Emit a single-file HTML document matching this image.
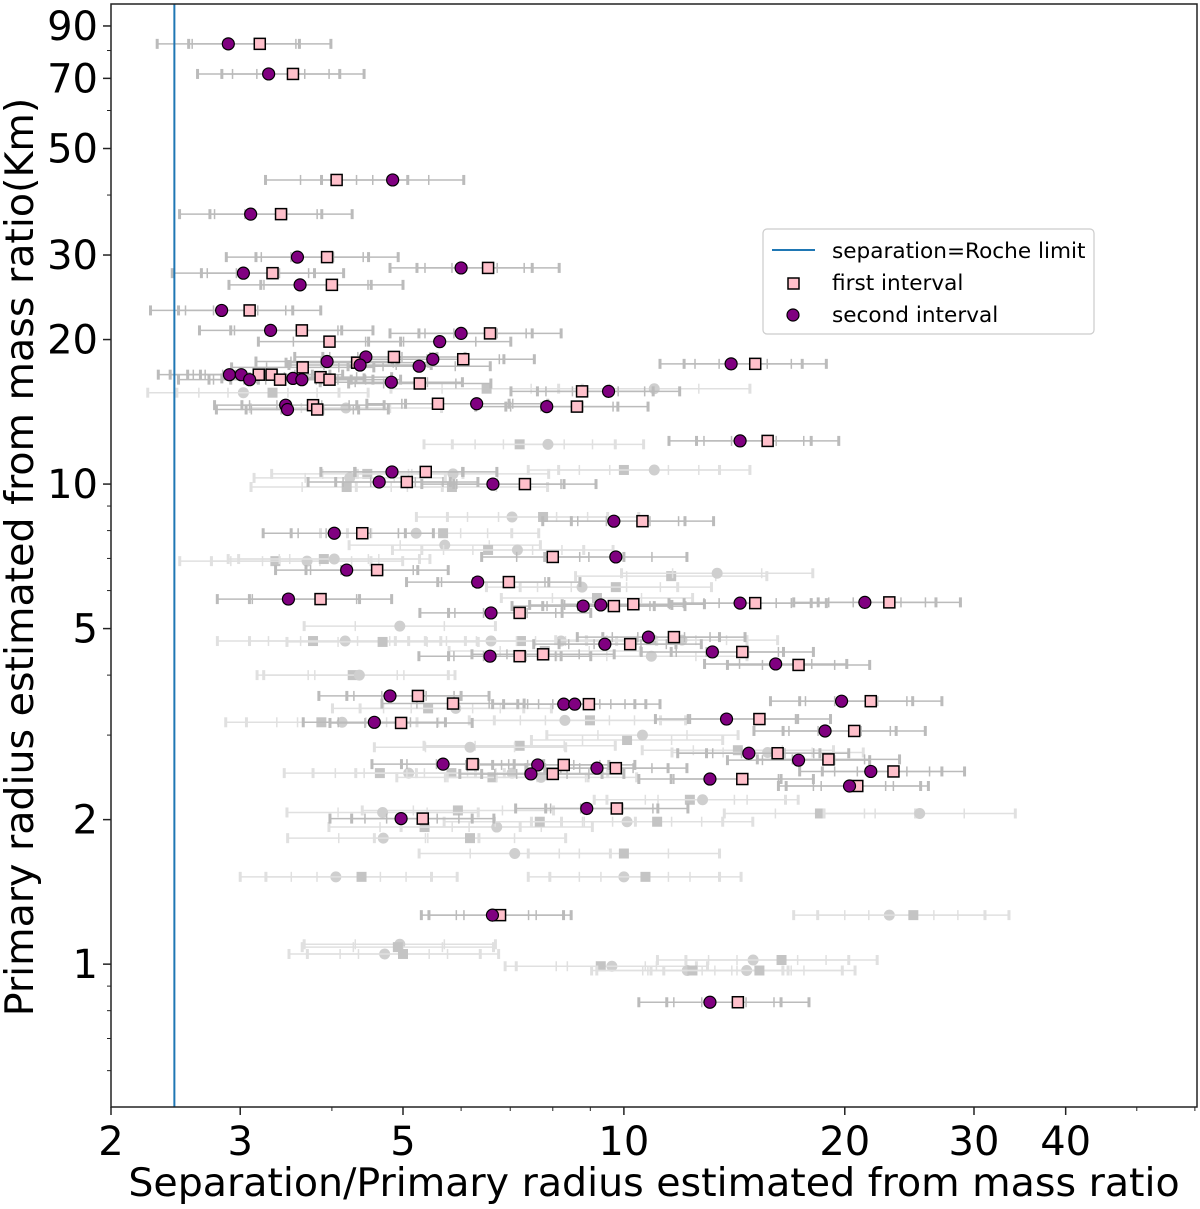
<!DOCTYPE html>
<html><head><meta charset="utf-8">
<style>
html,body{margin:0;padding:0;background:#fff;}
svg{display:block;font-family:"DejaVu Sans","Liberation Sans",sans-serif;}
</style></head>
<body>
<svg id="chart" width="1200" height="1209" viewBox="0 0 1200 1209" xmlns="http://www.w3.org/2000/svg">
<rect x="0" y="0" width="1200" height="1209" fill="#fff"/>
<g id="gray"></g>
<g id="bars"></g>
<g id="marks"></g>
<g id="axes"></g>
</svg>
<script>
// ---- data ----
const xTickValues = [2,3,5,10,20,30,40];
const xTickLabels = ["2","3","5","10","20","30","40"];
const xMinorTicks = [4,6,7,8,9,50,60];
const yTickValues = [1,2,5,10,20,30,50,70,90];
const yTickLabels = ["1","2","5","10","20","30","50","70","90"];
const yMinorTicks = [0.6,0.7,0.8,0.9,3,4,6,7,8,9,40,60,80];
const rocheLimit = 2.44;

const firstX = [3.19,3.54,4.06,3.41,3.94,6.53,3.32,4.0,3.09,3.64,6.57,3.97,4.86,4.33,6.04,3.65,3.18,3.31,3.40,3.86,3.97,5.27,15.1,8.77,5.58,8.63,3.77,3.82,15.7,5.37,5.06,7.33,10.6,4.40,8.0,4.61,6.97,3.86,7.21,9.69,10.3,15.1,23.0,10.2,11.7,14.5,7.21,7.76,17.3,5.24,8.96,5.85,21.7,15.3,4.97,20.6,16.2,19.0,6.22,8.28,9.75,8.0,14.5,20.8,23.3,9.78,5.32,6.78,14.3];
const firstY = [82.6,71.5,43,36.5,29.7,28.2,27.5,26.0,23.0,20.9,20.6,19.8,18.4,17.9,18.2,17.5,16.9,16.9,16.5,16.7,16.5,16.2,17.8,15.6,14.7,14.5,14.6,14.3,12.3,10.6,10.1,10.0,8.37,7.9,7.05,6.62,6.25,5.76,5.39,5.57,5.62,5.65,5.67,4.64,4.80,4.47,4.38,4.42,4.20,3.62,3.48,3.49,3.53,3.24,3.18,3.06,2.75,2.67,2.61,2.60,2.56,2.49,2.43,2.35,2.52,2.11,2.01,1.265,0.833];
const secondX = [2.89,3.28,4.84,3.10,3.59,6.0,3.03,3.62,2.83,3.30,6.0,5.61,5.49,4.45,5.26,3.94,4.37,2.90,3.01,3.09,3.54,3.64,4.82,14.0,9.53,6.30,7.85,3.46,3.48,14.4,4.83,4.64,6.63,9.69,4.03,9.75,4.19,6.32,3.49,6.59,8.80,9.3,14.4,21.3,9.42,10.8,13.2,6.57,16.1,4.80,8.28,8.57,19.8,13.8,4.57,18.8,14.8,17.3,5.67,7.63,9.19,7.47,13.1,20.3,21.7,8.90,4.97,6.62,13.1];
const secondY = [82.6,71.5,43,36.5,29.7,28.2,27.5,26.0,23.0,20.9,20.6,19.8,18.2,18.4,17.6,18.0,17.7,16.9,16.9,16.5,16.6,16.5,16.3,17.8,15.6,14.7,14.5,14.6,14.3,12.3,10.6,10.1,10.0,8.37,7.9,7.05,6.62,6.25,5.76,5.39,5.57,5.6,5.65,5.67,4.64,4.80,4.47,4.38,4.22,3.62,3.48,3.48,3.53,3.24,3.19,3.06,2.75,2.66,2.61,2.60,2.56,2.49,2.43,2.35,2.52,2.11,2.01,1.265,0.833];
const grayX = [11.0,6.50,3.03,3.32,4.18,7.21,7.88,10.0,11.0,4.47,4.23,4.19,5.85,5.83,7.04,7.76,5.21,5.67,5.70,6.53,7.16,3.35,3.70,3.90,4.03,9.75,8.77,11.6,13.4,9.19,4.95,3.77,4.17,4.69,6.59,7.24,8.21,10.9,12.0,7.8,10.9,4.27,4.36,5.41,5.9,3.87,4.13,8.99,8.31,10.1,10.6,7.21,6.17,14.3,15.7,4.65,5.09,5.82,7.04,6.62,7.71,12.3,12.8,18.5,25.3,5.94,4.69,5.35,6.71,7.68,10.1,11.1,4.70,6.17,7.1,10.0,4.05,4.39,10.0,10.7,23.0,24.8,4.95,4.92,4.72,5.0,9.63,9.3,12.2,12.4,15.0,16.4,14.7,15.3];
const grayY = [15.8,15.8,15.5,15.5,14.4,12.1,12.1,10.7,10.7,10.5,10.3,9.86,10.5,9.86,8.54,8.54,7.9,7.9,7.46,7.29,7.29,6.91,6.91,6.98,6.98,6.1,6.1,6.43,6.52,5.79,5.06,4.71,4.71,4.69,4.71,4.71,4.71,4.73,4.73,4.49,4.38,4.0,4.0,3.41,3.41,3.19,3.19,3.22,3.22,2.93,3.0,2.85,2.83,2.79,2.76,2.50,2.50,2.50,2.50,2.45,2.45,2.2,2.2,2.06,2.06,2.09,2.07,1.93,1.93,1.98,1.98,1.98,1.83,1.83,1.70,1.70,1.52,1.52,1.52,1.52,1.265,1.265,1.10,1.085,1.05,1.05,0.99,0.99,0.97,0.97,1.02,1.02,0.97,0.97];
const errOuter = 1.25, errInner = 1.12, grayErrOuter = 1.35, grayErrInner = 1.15;

// ---- axes ----
const L=111, R=1197, T=4, B=1107;
const X0=2, X1=60.4, Y0=0.504, Y1=100;
const sx = v => L + (Math.log10(v)-Math.log10(X0))/(Math.log10(X1)-Math.log10(X0))*(R-L);
const sy = v => B - (Math.log10(v)-Math.log10(Y0))/(Math.log10(Y1)-Math.log10(Y0))*(B-T);
const NS="http://www.w3.org/2000/svg";
function mk(tag, attrs, parent){const e=document.createElementNS(NS,tag);for(const k in attrs)e.setAttribute(k,attrs[k]);parent.appendChild(e);return e;}

const gGray=document.getElementById('gray'), gBars=document.getElementById('bars'), gMarks=document.getElementById('marks'), gAxes=document.getElementById('axes');

function errbar(parent, x, y, outer, inner, col){
  const y0=sy(y), xl=sx(x/outer), xr=sx(x*outer), il=sx(x/inner), ir=sx(x*inner);
  mk('line',{x1:xl,x2:xr,y1:y0,y2:y0,stroke:col,'stroke-width':1.5},parent);
  for(const xx of [xl,xr]) mk('line',{x1:xx,x2:xx,y1:y0-5,y2:y0+5,stroke:col,'stroke-width':3},parent);
  for(const xx of [il,ir]) mk('line',{x1:xx,x2:xx,y1:y0-5,y2:y0+5,stroke:col,'stroke-width':1.5},parent);
}

for(let i=0;i<grayX.length;i++){
  errbar(gGray, grayX[i], grayY[i], grayErrOuter, grayErrInner, '#e0e0e0');
  let el;
  if(i%2===0){ el=mk('circle',{cx:sx(grayX[i]),cy:sy(grayY[i]),r:5.5,fill:'#cfcfcf'},gGray); }
  else { el=mk('rect',{x:sx(grayX[i])-5,y:sy(grayY[i])-5,width:10,height:10,fill:'#c4c4c4'},gGray); }
  
  
}
for(let i=0;i<firstX.length;i++) errbar(gBars, firstX[i], firstY[i], errOuter, errInner, '#bbbbbb');
for(let i=0;i<secondX.length;i++) errbar(gBars, secondX[i], secondY[i], errOuter, errInner, '#bbbbbb');
for(let i=0;i<firstX.length;i++){
  const el=mk('rect',{x:sx(firstX[i])-5.5,y:sy(firstY[i])-5.5,width:11,height:11,fill:'#ffc0cb',stroke:'#000','stroke-width':1.5},gMarks);
  
  
}
for(let i=0;i<secondX.length;i++){
  const el=mk('circle',{cx:sx(secondX[i]),cy:sy(secondY[i]),r:6,fill:'#800080',stroke:'#000','stroke-width':1.2},gMarks);
  
  
}
const rl=mk('line',{x1:sx(rocheLimit),x2:sx(rocheLimit),y1:T,y2:B,stroke:'#1f77b4','stroke-width':2},gMarks);



const fr=mk('rect',{x:L,y:T,width:R-L,height:B-T,fill:'none',stroke:'#222','stroke-width':1.5},gAxes);


xTickValues.forEach((v,i)=>{
  const x=sx(v);
  mk('line',{x1:x,x2:x,y1:B,y2:B+8,stroke:'#222','stroke-width':1.5},gAxes);
  const t=mk('text',{x:x,y:B+48,'font-size':40,'text-anchor':'middle',fill:'#000'},gAxes);
  t.textContent=xTickLabels[i];
  
  
});
xMinorTicks.forEach(v=>{const x=sx(v);mk('line',{x1:x,x2:x,y1:B,y2:B+4,stroke:'#222','stroke-width':1},gAxes);});
yTickValues.forEach((v,i)=>{
  const y=sy(v);
  mk('line',{x1:L-8,x2:L,y1:y,y2:y,stroke:'#222','stroke-width':1.5},gAxes);
  const t=mk('text',{x:L-13,y:y+14,'font-size':40,'text-anchor':'end',fill:'#000'},gAxes);
  t.textContent=yTickLabels[i];
  
  
});
yMinorTicks.forEach(v=>{const y=sy(v);mk('line',{x1:L-4,x2:L,y1:y,y2:y,stroke:'#222','stroke-width':1},gAxes);});
</script>
<svg style="position:absolute;left:0;top:0" width="1200" height="1209" xmlns="http://www.w3.org/2000/svg" font-family="DejaVu Sans, Liberation Sans, sans-serif">
<text x="654" y="1196" font-size="39.5" text-anchor="middle">Separation/Primary radius estimated from mass ratio</text>
<text transform="translate(33,557) rotate(-90)" font-size="39.5" text-anchor="middle">Primary radius estimated from mass ratio(Km)</text>
<g>
<rect x="763" y="229" width="331" height="105" rx="4" fill="#fff" fill-opacity="0.85" stroke="#ccc" stroke-width="1.2"/>
<line x1="772" x2="815" y1="250" y2="250" stroke="#1f77b4" stroke-width="2"/>
<text x="832" y="258" font-size="21.6">separation=Roche limit</text>
<rect x="788" y="278" width="11" height="11" fill="#ffc0cb" stroke="#000" stroke-width="1.5"/>
<text x="832" y="290" font-size="21.6">first interval</text>
<circle cx="793" cy="315" r="6" fill="#800080" stroke="#000" stroke-width="1.2"/>
<text x="832" y="322" font-size="21.6">second interval</text>
</g>
</svg>
</body></html>
